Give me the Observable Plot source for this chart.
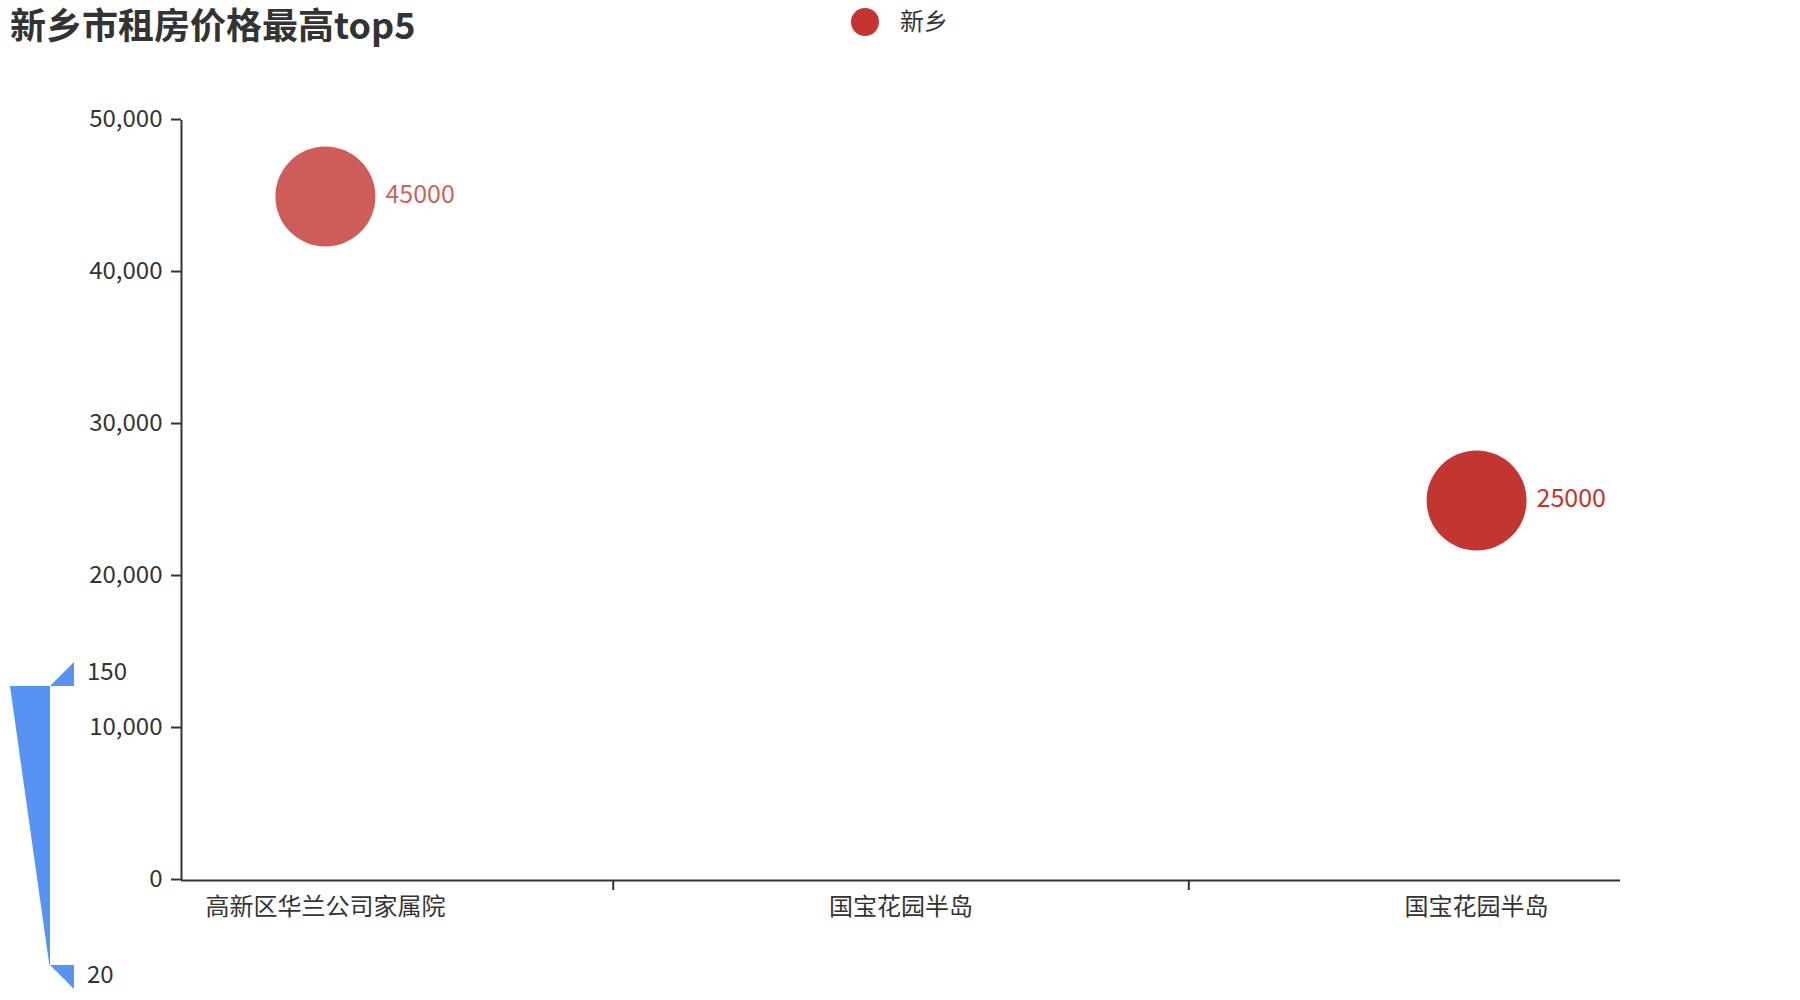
<!DOCTYPE html>
<html>
<head>
<meta charset="utf-8">
<script src="https://cdn.jsdelivr.net/npm/d3@7"></script>
<script src="https://cdn.jsdelivr.net/npm/@observablehq/plot@0.6"></script>
<style>
  body { margin: 0; background: #fff; }
  #wrap { position: relative; width: 1800px; height: 1000px; font-family: "Microsoft YaHei", "Noto Sans CJK SC", sans-serif; color: #333; }
  #title { position: absolute; left: 10px; top: 3px; font-size: 36px; font-weight: bold; line-height: 40px; white-space: nowrap; }
  #legend { position: absolute; left: 851px; top: 8px; height: 28px; display: flex; align-items: center; font-size: 24px; }
  #legend .sw { width: 28px; height: 28px; border-radius: 50%; background: #c23531; margin-right: 21px; }
  #legend span { position: relative; top: -3px; }
  #plot, #vmap { position: absolute; left: 0; top: 0; }
</style>
</head>
<body>
<div id="wrap">
  <div id="plot"></div>
  <svg id="vmap" width="200" height="1000"></svg>
  <div id="title">新乡市租房价格最高top5</div>
  <div id="legend"><div class="sw"></div><span id="legendName"></span></div>
</div>
<script>
// ---- data ----
const seriesName = "新乡";
const slots = [0, 1, 2, 3, 4];                 // five category slots (top5)
const labelSlots = [0, 2, 4];                  // slots whose labels are shown
const labelNames = ["高新区华兰公司家属院", "国宝花园半岛", "国宝花园半岛"];
const tickSlots = [1, 3];                      // tick marks on the x axis
const pointSlots = [0, 4];
const pointValues = [45000, 25000];
const yTicks = [0, 10000, 20000, 30000, 40000, 50000];
const sizeRange = [20, 150];                   // visual map range
// ---- styles ----
const pointOpacities = [0.8, 1];
const red = "#c23531";
const font = '"Microsoft YaHei", "Noto Sans CJK SC", sans-serif';

document.getElementById("legendName").textContent = seriesName;

const points = pointSlots.map((s, i) => ({slot: s, value: pointValues[i], op: pointOpacities[i]}));

const chart = Plot.plot({
  width: 1800,
  height: 1000,
  marginLeft: 181,
  marginRight: 180,
  marginTop: 120,
  marginBottom: 120,
  style: {fontFamily: font, fontSize: "24px", color: "#333", background: "transparent", overflow: "visible"},
  x: {type: "linear", domain: [slots[0] - 0.5, slots[slots.length - 1] + 0.5], axis: null},
  y: {domain: [yTicks[0], yTicks[yTicks.length - 1]], axis: null},
  marks: [
    Plot.axisY(yTicks, {tickSize: 10, tickPadding: 9, tickFormat: d3.format(","), fontSize: 24, stroke: "#333", strokeWidth: 2, fill: "#333", dy: -1, label: null}),
    Plot.axisX(tickSlots, {tickSize: 10, tickFormat: () => "", stroke: "#333", strokeWidth: 2, label: null}),
    Plot.axisX(labelSlots, {tickSize: 0, tickPadding: 17, tickFormat: s => labelNames[labelSlots.indexOf(s)], fontSize: 24, fill: "#333", label: null}),
    Plot.ruleX([slots[0] - 0.5], {stroke: "#333", strokeWidth: 2}),
    Plot.ruleY([yTicks[0]], {stroke: "#333", strokeWidth: 2}),
    Plot.dot(points, {x: "slot", y: "value", r: 50, fill: red, fillOpacity: d => d.op, stroke: "none"}),
    Plot.text(points, {x: "slot", y: "value", text: d => String(d.value), dx: 60, dy: -2, textAnchor: "start", fill: red, fillOpacity: d => d.op, fontSize: 25})
  ]
});
document.getElementById("plot").appendChild(chart);

// ---- visual map (continuous, symbol size) ----
const vm = d3.select("#vmap");
const vy = d3.scaleLinear().domain(sizeRange).range([965, 686]);
const vw = d3.scaleLinear().domain(sizeRange).range([0.7, 40]);
const barRight = 50;
const blue = "#5793f3";
vm.append("polygon")
  .attr("points", [
    [barRight - vw(sizeRange[1]), vy(sizeRange[1])],
    [barRight, vy(sizeRange[1])],
    [barRight, vy(sizeRange[0])],
    [barRight - vw(sizeRange[0]), vy(sizeRange[0])]
  ].map(p => p.join(",")).join(" "))
  .attr("fill", blue);
// handles
vm.append("polygon")
  .attr("points", [[barRight, vy(sizeRange[1])], [barRight + 24, vy(sizeRange[1]) - 24], [barRight + 24, vy(sizeRange[1])]].map(p => p.join(",")).join(" "))
  .attr("fill", blue);
vm.append("polygon")
  .attr("points", [[barRight, vy(sizeRange[0])], [barRight + 24, vy(sizeRange[0])], [barRight + 24, vy(sizeRange[0]) + 24]].map(p => p.join(",")).join(" "))
  .attr("fill", blue);
vm.append("text").attr("x", 87).attr("y", vy(sizeRange[1]) - 14).attr("dy", "0.35em")
  .attr("font-family", font).attr("font-size", 24).attr("fill", "#333").text(String(sizeRange[1]));
vm.append("text").attr("x", 87).attr("y", vy(sizeRange[0]) + 10).attr("dy", "0.35em")
  .attr("font-family", font).attr("font-size", 24).attr("fill", "#333").text(String(sizeRange[0]));
</script>
</body>
</html>
